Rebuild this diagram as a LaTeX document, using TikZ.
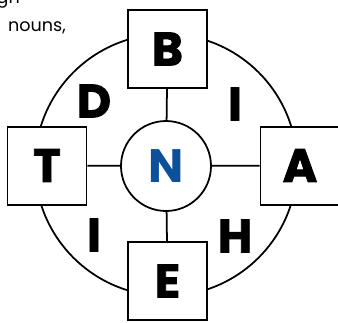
\documentclass[tikz,border=0pt]{standalone}
\usepackage{fontspec}
\setmainfont{Poppins}
\newfontfamily\heavyfont{Poppins}[BoldFeatures={FakeBold=2}]
\usetikzlibrary{positioning}
\definecolor{nblue}{RGB}{12,80,156}

\begin{document}
\begin{tikzpicture}[x=0.03cm, y=-0.03cm,
    letterbox/.style={draw, fill=white, line width=1.7pt, minimum width=2.37cm,
      minimum height=2.34cm, inner sep=0pt,
      font=\heavyfont\fontsize{40}{40}\selectfont\bfseries},
    hub/.style={draw, circle, fill=white, line width=1.5pt, minimum size=2.7cm,
      inner sep=0pt, text=nblue, font=\fontsize{40}{40}\selectfont\bfseries},
    corner/.style={font=\heavyfont\fontsize{40}{40}\selectfont\bfseries},
    spoke/.style={line width=1.5pt}, ring/.style={line width=1.5pt},
    note/.style={font=\fontsize{15}{18}\selectfont, inner sep=0pt} ]

    \useasboundingbox (0,0) rectangle (338,322);

    % Text cut off at the top
    \node[note, anchor=base east] (t0) at (20,3) {gh};
    \node[note, anchor=base west] (t1) at (8,31) {nouns,};

    % Outer ring
    \draw[ring] (166,165) circle (3.93cm);

    % Letters round the hub
    \node[hub] (n) at (166,166) {N};
    \node[letterbox] (b) at (167.5,49) {B};
    \node[letterbox] (e) at (167.5,281) {E};
    \node[letterbox] (t) at (47,165.5) {T};
    \node[letterbox] (a) at (300,165.5) {A};

    \draw[spoke] (n) -- (b); \draw[spoke] (n) -- (e); \draw[spoke] (n) --
    (t); \draw[spoke] (n) -- (a);

    % Letters between the boxes
    \node[corner] (d) at (94,101) {D}; \node[corner] (i1) at (235,104) {I};
    \node[corner] (i2) at (94,235) {I}; \node[corner] (h) at (235,236) {H};

  \end{tikzpicture}
\end{document}
